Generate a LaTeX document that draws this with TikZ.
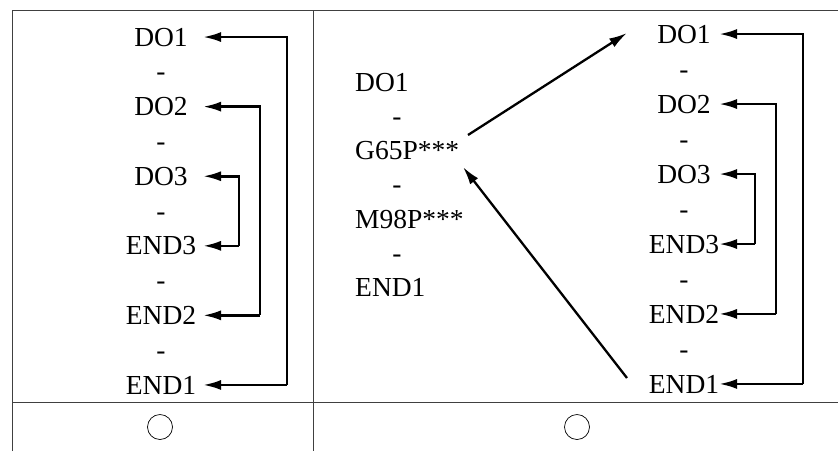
\documentclass[tikz,border=0pt]{standalone}
\usepackage{fontspec}
\setmainfont{Liberation Serif}
\usetikzlibrary{arrows.meta}
\begin{document}
\begin{tikzpicture}[x=1pt,y=-1pt,
  txt/.style={inner sep=0pt,anchor=base,font=\fontsize{27.5}{27.5}\selectfont},
  ltxt/.style={txt,anchor=base west},
  arr/.style={-{Latex[length=18pt,width=10pt]},line width=2.6pt},
  frame/.style={line width=0.8pt,black!75}]
\useasboundingbox (0,0) rectangle (838,451);
% frame
\draw[frame] (12,451) -- (12,10) -- (838,10);
\draw[frame] (12,402) -- (838,402);
\draw[frame] (313,10) -- (313,451);
\node[draw,circle,minimum size=25pt,inner sep=0pt,line width=0.7pt] (c1) at (160,427) {};
\node[draw,circle,minimum size=25pt,inner sep=0pt,line width=0.7pt] (c2) at (577,427) {};
% left column
\foreach \t [count=\k from 0] in {DO1,-,DO2,-,DO3,-,END3,-,END2,-,END1}
  \node[txt] (L\k) at (161,{46+34.8*\k}) {\t};
\coordinate (tl) at (203,0);
\coordinate (la) at (287,0);
\coordinate (lb) at (260,0);
\coordinate (lc) at (239,0);
\draw[arr] (L10 -| la) -- (L0 -| la) -- (L0 -| tl);
\draw[arr] (L10 -| la) -- (L10 -| tl);
\draw[arr] (L8 -| lb) -- (L2 -| lb) -- (L2 -| tl);
\draw[arr] (L8 -| lb) -- (L8 -| tl);
\draw[arr] (L6 -| lc) -- (L4 -| lc) -- (L4 -| tl);
\draw[arr] (L6 -| lc) -- (L6 -| tl);
% middle column
\node[ltxt] (M0) at (355,91) {DO1};
\node[txt] (M1) at (397,{91+34.3}) {-};
\node[ltxt] (M2) at (355,{91+34.3*2}) {G65P***};
\node[txt] (M3) at (397,{91+34.3*3}) {-};
\node[ltxt] (M4) at (355,{91+34.3*4}) {M98P***};
\node[txt] (M5) at (397,{91+34.3*5}) {-};
\node[ltxt] (M6) at (355,{91+34.3*6}) {END1};
% right column
\foreach \t [count=\k from 0] in {DO1,-,DO2,-,DO3,-,END3,-,END2,-,END1}
  \node[txt] (R\k) at (684,{43+35.0*\k}) {\t};
\coordinate (tr) at (719,0);
\coordinate (ra) at (803,0);
\coordinate (rb) at (776,0);
\coordinate (rc) at (755,0);
\draw[arr] (R10 -| ra) -- (R0 -| ra) -- (R0 -| tr);
\draw[arr] (R10 -| ra) -- (R10 -| tr);
\draw[arr] (R8 -| rb) -- (R2 -| rb) -- (R2 -| tr);
\draw[arr] (R8 -| rb) -- (R8 -| tr);
\draw[arr] (R6 -| rc) -- (R4 -| rc) -- (R4 -| tr);
\draw[arr] (R6 -| rc) -- (R6 -| tr);
% diagonal arrows
\coordinate (g1) at (468,135);
\coordinate (d1) at (627,33);
\coordinate (e1) at (627,378);
\coordinate (g2) at (463,167);
\draw[arr,line width=2.3pt] (g1) -- (d1);
\draw[arr,line width=2.3pt] (e1) -- (g2);
\end{tikzpicture}
\end{document}
